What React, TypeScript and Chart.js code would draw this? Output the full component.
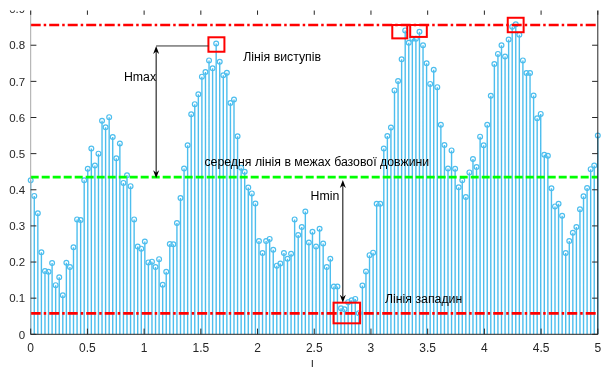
import React, { useEffect, useRef } from 'react';
import { Chart, registerables } from 'chart.js';

Chart.register(...registerables);

// ---------- data ----------
const X_MIN = 0;
const X_MAX = 5;

const PROFILE: number[] = [
  0.426, 0.383, 0.335, 0.227, 0.175, 0.173, 0.197, 0.136, 0.158, 0.108,
  0.198, 0.186, 0.241, 0.318, 0.316, 0.426, 0.458, 0.514, 0.467, 0.500,
  0.591, 0.573, 0.601, 0.546, 0.487, 0.528, 0.419, 0.440, 0.410, 0.318,
  0.243, 0.237, 0.257, 0.199, 0.201, 0.186, 0.208, 0.137, 0.173, 0.250,
  0.249, 0.308, 0.377, 0.459, 0.523, 0.609, 0.637, 0.664, 0.713, 0.726,
  0.758, 0.736, 0.805, 0.754, 0.717, 0.724, 0.640, 0.650, 0.548, 0.461,
  0.450, 0.406, 0.390, 0.362, 0.258, 0.225, 0.258, 0.264, 0.234, 0.190,
  0.196, 0.225, 0.209, 0.223, 0.318, 0.275, 0.297, 0.340, 0.254, 0.284,
  0.243, 0.292, 0.251, 0.186, 0.209, 0.132, 0.132, 0.072, 0.069, 0.089,
  0.094, 0.098, 0.058, 0.135, 0.174, 0.219, 0.226, 0.361, 0.361, 0.514,
  0.549, 0.572, 0.675, 0.701, 0.761, 0.841, 0.807, 0.818, 0.818, 0.837,
  0.800, 0.750, 0.693, 0.732, 0.684, 0.580, 0.524, 0.459, 0.509, 0.458,
  0.407, 0.426, 0.380, 0.448, 0.485, 0.463, 0.547, 0.523, 0.580, 0.660,
  0.748, 0.776, 0.800, 0.769, 0.816, 0.851, 0.858, 0.829, 0.758, 0.723,
  0.723, 0.661, 0.598, 0.610, 0.497, 0.494, 0.404, 0.354, 0.361, 0.328,
  0.225, 0.258, 0.281, 0.297, 0.346, 0.382, 0.405, 0.457, 0.467, 0.550,
];

// sample positions (evenly spaced grid over the base length)
const X_VALUES: number[] = PROFILE.map(
  (_, i) => X_MIN + (i * (X_MAX - X_MIN)) / (PROFILE.length - 1)
);

const PEAK_LINE = 0.856;
const MEAN_LINE = 0.435;
const VALLEY_LINE = 0.058;

const X_TICKS = [0, 0.5, 1, 1.5, 2, 2.5, 3, 3.5, 4, 4.5, 5];
const X_TICK_LABELS = ['0', '0.5', '1', '1.5', '2', '2.5', '3', '3.5', '4', '4.5', '5'];
const Y_TICKS = [0, 0.1, 0.2, 0.3, 0.4, 0.5, 0.6, 0.7, 0.8, 0.9];
const Y_TICK_LABELS = ['0', '0.1', '0.2', '0.3', '0.4', '0.5', '0.6', '0.7', '0.8', '0.9'];
const X_TITLE = 'l';

// annotation texts (data coordinates of left/middle anchor)
const TEXT_LABELS = [
  { text: 'Лінія виступів', x: 1.874, y: 0.767 },
  { text: 'Hmax', x: 0.822, y: 0.711 },
  { text: 'середня лінія в межах базової довжини', x: 1.532, y: 0.476 },
  { text: 'Hmin', x: 2.468, y: 0.381 },
  { text: 'Лінія западин', x: 3.124, y: 0.097 },
];

// highlight boxes [x1, x2, y1, y2] in data coordinates
const BOXES = [
  [1.567, 1.708, 0.782, 0.822],
  [3.188, 3.32, 0.819, 0.856],
  [3.346, 3.4925, 0.823, 0.856],
  [4.206, 4.346, 0.836, 0.876],
  [2.67, 2.904, 0.0304, 0.0875],
];

// double arrows [x, yTop, yBottom]
const ARROWS = [
  [1.106, 0.798, 0.432],
  [2.752, 0.427, 0.087],
];
// connector line [x1, x2, y]
const CONNECTOR = [1.106, 1.567, 0.798];

// ---------- styles ----------
const FONT = '"Liberation Sans", Arial, Helvetica, sans-serif';
const STEM_COLOR = 'rgb(77,190,238)';
const AXIS_COLOR = '#262626';

const stemPlugin = {
  id: 'stems',
  beforeDatasetsDraw(chart: any) {
    const { ctx, scales } = chart;
    const xs = scales.x;
    const ys = scales.y;
    const y0 = ys.getPixelForValue(0);
    ctx.save();
    ctx.strokeStyle = STEM_COLOR;
    ctx.lineWidth = 1.4;
    ctx.beginPath();
    X_VALUES.forEach((t, i) => {
      const px = xs.getPixelForValue(t);
      ctx.moveTo(px, y0);
      ctx.lineTo(px, ys.getPixelForValue(PROFILE[i]));
    });
    ctx.stroke();
    ctx.restore();
  },
};

function arrowHead(ctx: CanvasRenderingContext2D, x: number, y: number, dir: number) {
  // dir = 1 -> pointing down, -1 -> pointing up
  const len = 8;
  const hw = 3;
  ctx.beginPath();
  ctx.moveTo(x, y);
  ctx.lineTo(x - hw, y - dir * len);
  ctx.lineTo(x, y - dir * (len - 2.5));
  ctx.lineTo(x + hw, y - dir * len);
  ctx.closePath();
  ctx.fill();
}

const annotationPlugin = {
  id: 'annotations',
  afterDatasetsDraw(chart: any) {
    const { ctx, scales } = chart;
    const xs = scales.x;
    const ys = scales.y;
    ctx.save();
    // boxes
    ctx.strokeStyle = '#ff0000';
    ctx.lineWidth = 2;
    BOXES.forEach(([x1, x2, y1, y2]) => {
      const a = xs.getPixelForValue(x1);
      const b = xs.getPixelForValue(x2);
      const c = ys.getPixelForValue(y2);
      const d = ys.getPixelForValue(y1);
      ctx.strokeRect(a, c, b - a, d - c);
    });
    // connector
    ctx.strokeStyle = '#333';
    ctx.lineWidth = 1;
    ctx.beginPath();
    ctx.moveTo(xs.getPixelForValue(CONNECTOR[0]), ys.getPixelForValue(CONNECTOR[2]));
    ctx.lineTo(xs.getPixelForValue(CONNECTOR[1]), ys.getPixelForValue(CONNECTOR[2]));
    ctx.stroke();
    // arrows
    ctx.strokeStyle = '#000';
    ctx.fillStyle = '#000';
    ARROWS.forEach(([x, yt, yb]) => {
      const px = xs.getPixelForValue(x);
      const pt = ys.getPixelForValue(yt);
      const pb = ys.getPixelForValue(yb);
      ctx.beginPath();
      ctx.moveTo(px, pt + 4);
      ctx.lineTo(px, pb - 4);
      ctx.stroke();
      arrowHead(ctx, px, pt, -1);
      arrowHead(ctx, px, pb, 1);
    });
    // texts
    ctx.fillStyle = '#000';
    ctx.font = `12.3px ${FONT}`;
    ctx.textAlign = 'left';
    ctx.textBaseline = 'middle';
    TEXT_LABELS.forEach((l) => {
      ctx.fillText(l.text, xs.getPixelForValue(l.x), ys.getPixelForValue(l.y));
    });
    ctx.restore();
  },
};

const axesPlugin = {
  id: 'matlabAxes',
  afterDraw(chart: any) {
    const { ctx, chartArea, scales } = chart;
    const xs = scales.x;
    const ys = scales.y;
    const { left, right, top, bottom } = chartArea;
    const tl = 5.7;
    ctx.save();
    ctx.lineWidth = 1;
    // axis lines
    ctx.strokeStyle = '#a8a8a8';
    ctx.beginPath();
    ctx.moveTo(left, top);
    ctx.lineTo(left, bottom);
    ctx.stroke();
    ctx.strokeStyle = AXIS_COLOR;
    ctx.beginPath();
    ctx.moveTo(left, bottom);
    ctx.lineTo(right, bottom);
    ctx.moveTo(right, bottom);
    ctx.lineTo(right, top);
    ctx.moveTo(left, top);
    ctx.lineTo(right, top);
    ctx.stroke();
    // ticks
    ctx.beginPath();
    X_TICKS.forEach((v) => {
      const px = xs.getPixelForValue(v);
      ctx.moveTo(px, bottom);
      ctx.lineTo(px, bottom - tl);
      ctx.moveTo(px, top);
      ctx.lineTo(px, top + tl);
    });
    Y_TICKS.forEach((v) => {
      const py = ys.getPixelForValue(v);
      ctx.moveTo(left, py);
      ctx.lineTo(left + tl, py);
      ctx.moveTo(right, py);
      ctx.lineTo(right - tl, py);
    });
    ctx.stroke();
    // tick labels
    ctx.fillStyle = AXIS_COLOR;
    ctx.font = `12px ${FONT}`;
    ctx.textBaseline = 'alphabetic';
    ctx.textAlign = 'center';
    X_TICKS.forEach((v, i) => {
      ctx.fillText(X_TICK_LABELS[i], xs.getPixelForValue(v), bottom + 17.3);
    });
    ctx.textAlign = 'right';
    ctx.font = `11.5px ${FONT}`;
    Y_TICKS.forEach((v, i) => {
      ctx.fillText(Y_TICK_LABELS[i], left - 5.5, ys.getPixelForValue(v) + 4.2);
    });
    // axis title
    ctx.textAlign = 'center';
    ctx.font = `12px ${FONT}`;
    ctx.fillText(X_TITLE, (left + right) / 2 - 2, chart.height + 1.6);
    // top crop of the original figure
    ctx.fillStyle = '#ffffff';
    ctx.fillRect(0, 0, chart.width, 10.5);
    ctx.restore();
  },
};

export default function App() {
  const ref = useRef<HTMLCanvasElement>(null);

  useEffect(() => {
    const canvas = ref.current;
    if (!canvas) return;
    const hLine = (v: number) => [
      { x: X_MIN, y: v },
      { x: X_MAX, y: v },
    ];
    const chart = new Chart(canvas, {
      type: 'scatter',
      data: {
        datasets: [
          {
            label: 'peaks',
            data: hLine(PEAK_LINE),
            showLine: true,
            borderColor: '#ff0000',
            borderWidth: 2.6,
            borderDash: [10, 3, 2.5, 3],
            pointRadius: 0,
            clip: false,
          } as any,
          {
            label: 'mean',
            data: hLine(MEAN_LINE),
            showLine: true,
            borderColor: '#00ff00',
            borderWidth: 2.6,
            borderDash: [8, 3],
            pointRadius: 0,
            clip: false,
          } as any,
          {
            label: 'valleys',
            data: hLine(VALLEY_LINE),
            showLine: true,
            borderColor: '#ff0000',
            borderWidth: 2.6,
            borderDash: [10, 3, 2.5, 3],
            pointRadius: 0,
            clip: false,
          } as any,
          {
            label: 'profile',
            data: X_VALUES.map((x, i) => ({ x, y: PROFILE[i] })),
            showLine: false,
            pointRadius: 2.4,
            pointBorderWidth: 1.2,
            pointBorderColor: STEM_COLOR,
            pointBackgroundColor: 'rgba(255,255,255,0)',
            clip: false,
          } as any,
        ],
      },
      options: {
        animation: false,
        responsive: false,
        devicePixelRatio: 1,
        events: [],
        layout: { padding: { left: 30.7, right: 2.5, top: 9.1, bottom: 32.7 } },
        plugins: { legend: { display: false }, tooltip: { enabled: false } },
        scales: {
          x: { type: 'linear', min: X_MIN, max: X_MAX, display: false },
          y: { type: 'linear', min: 0, max: 0.9, display: false },
        },
      },
      plugins: [stemPlugin, annotationPlugin, axesPlugin],
    });
    return () => chart.destroy();
  }, []);

  return (
    <div style={{ position: 'absolute', left: 0, top: 0, width: 603, height: 367, background: '#fff' }}>
      <canvas ref={ref} width={603} height={367} style={{ display: 'block', width: 603, height: 367 }} />
    </div>
  );
}
